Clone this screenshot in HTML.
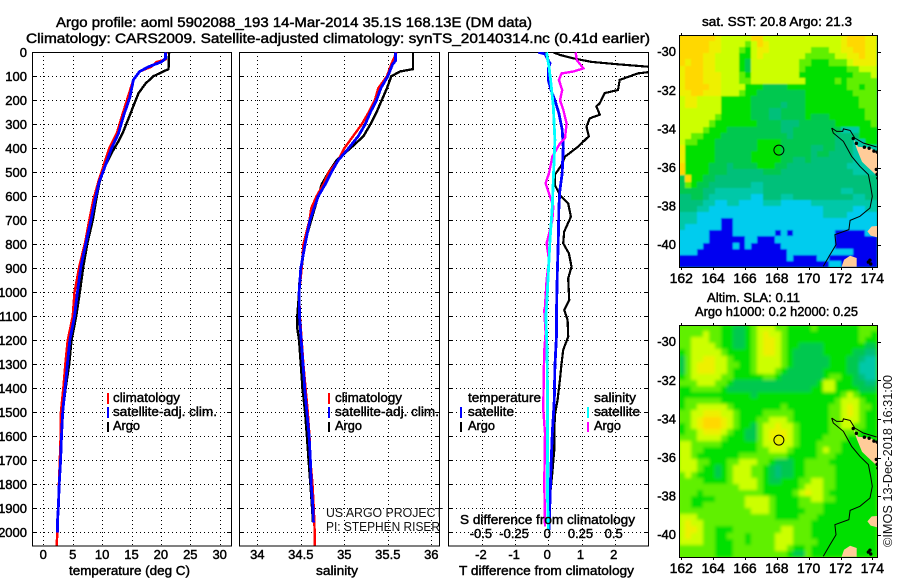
<!DOCTYPE html>
<html lang="en">
<head>
<meta charset="utf-8">
<title>Argo profile</title>
<style>
html,body{margin:0;padding:0;background:#fff;}
svg{display:block;position:absolute;left:0;top:0;}
text{font-family:"Liberation Sans",sans-serif;font-size:13px;fill:#000;stroke:#000;stroke-width:.45px;}
.thin{stroke:none;font-size:13px;fill:#111;}
.big{font-size:14px;}
</style>
</head>
<body>
<svg id="chart" xmlns="http://www.w3.org/2000/svg" width="900" height="580" viewBox="0 0 900 580">
  <defs>
    <clipPath id="clip-t"><rect x="32" y="52" width="199" height="494"/></clipPath>
    <clipPath id="clip-s"><rect x="239" y="52" width="200" height="494"/></clipPath>
    <clipPath id="clip-d"><rect x="448" y="52" width="200" height="494"/></clipPath>
    <clipPath id="clip-m1"><rect x="679" y="35" width="198" height="232"/></clipPath>
    <clipPath id="clip-m2"><rect x="679" y="325" width="198" height="232"/></clipPath>
    <filter id="blur-soft" x="-5%" y="-5%" width="110%" height="110%"><feGaussianBlur stdDeviation="0.8"/></filter>
    <filter id="blur-smooth" x="-5%" y="-5%" width="110%" height="110%"><feGaussianBlur stdDeviation="1.5"/></filter>
  </defs>
  <rect width="900" height="580" fill="#fff"/>
  <text class="big" x="56" y="27" textLength="476" lengthAdjust="spacingAndGlyphs">Argo profile: aoml 5902088_193 14-Mar-2014 35.1S 168.13E (DM data)</text>
  <text class="big" x="26" y="43" textLength="624" lengthAdjust="spacingAndGlyphs">Climatology: CARS2009. Satellite-adjusted climatology: synTS_20140314.nc (0.41d earlier)</text>
  <g id="maps"></g>
  <g id="plots"></g>

  <g>
    <rect x="107" y="393" width="2" height="11" fill="#ff0000"/>
    <rect x="107" y="407" width="2" height="11" fill="#0000ff"/>
    <rect x="107" y="422" width="2" height="10" fill="#000"/>
    <text x="113" y="402" textLength="67" lengthAdjust="spacingAndGlyphs">climatology</text>
    <text x="113" y="416" textLength="104" lengthAdjust="spacingAndGlyphs">satellite-adj. clim.</text>
    <text x="113" y="430" textLength="27" lengthAdjust="spacingAndGlyphs">Argo</text>
  </g>
  <g>
    <rect x="328" y="393" width="2" height="11" fill="#ff0000"/>
    <rect x="328" y="407" width="2" height="11" fill="#0000ff"/>
    <rect x="328" y="422" width="2" height="10" fill="#000"/>
    <text x="335" y="402" textLength="67" lengthAdjust="spacingAndGlyphs">climatology</text>
    <text x="335" y="416" textLength="104" lengthAdjust="spacingAndGlyphs">satellite-adj. clim.</text>
    <text x="335" y="430" textLength="27" lengthAdjust="spacingAndGlyphs">Argo</text>
  </g>
  <text class="thin" x="326" y="517" textLength="117" lengthAdjust="spacingAndGlyphs">US ARGO PROJECT</text>
  <text class="thin" x="326" y="531" textLength="114" lengthAdjust="spacingAndGlyphs">PI: STEPHEN RISER</text>
  <g>
    <text x="468" y="402" textLength="73" lengthAdjust="spacingAndGlyphs">temperature</text>
    <rect x="460" y="407" width="2" height="11" fill="#0000ff"/>
    <text x="468" y="416" textLength="46" lengthAdjust="spacingAndGlyphs">satellite</text>
    <rect x="460" y="422" width="2" height="10" fill="#000"/>
    <text x="468" y="430" textLength="27" lengthAdjust="spacingAndGlyphs">Argo</text>
    <text x="594" y="402" textLength="42" lengthAdjust="spacingAndGlyphs">salinity</text>
    <rect x="587" y="407" width="2" height="11" fill="#00ffff"/>
    <text x="594" y="416" textLength="46" lengthAdjust="spacingAndGlyphs">satellite</text>
    <rect x="587" y="422" width="2" height="10" fill="#ff00ff"/>
    <text x="594" y="430" textLength="27" lengthAdjust="spacingAndGlyphs">Argo</text>
  </g>
  <text x="460" y="524" textLength="175" lengthAdjust="spacingAndGlyphs">S difference from climatology</text>
  <text x="69" y="575" textLength="121" lengthAdjust="spacingAndGlyphs">temperature (deg C)</text>
  <text x="316" y="575" textLength="42" lengthAdjust="spacingAndGlyphs">salinity</text>
  <text x="459" y="575" textLength="175" lengthAdjust="spacingAndGlyphs">T difference from climatology</text>
  <text x="702" y="26" textLength="150" lengthAdjust="spacingAndGlyphs">sat. SST: 20.8 Argo: 21.3</text>
  <text x="707" y="302" textLength="93" lengthAdjust="spacingAndGlyphs">Altim. SLA: 0.11</text>
  <text x="695" y="316" textLength="163" lengthAdjust="spacingAndGlyphs">Argo h1000: 0.2 h2000: 0.25</text>
  <text class="thin" transform="translate(892,547) rotate(-90)" x="0" y="0" textLength="172" lengthAdjust="spacingAndGlyphs">©IMOS 13-Dec-2018 16:31:00</text>
</svg>
<script>
/* ---------- profile data (depth in dbar, values as read) ---------- */
const depthTicks = [0,100,200,300,400,500,600,700,800,900,1000,1100,1200,1300,1400,1500,1600,1700,1800,1900,2000];
const tempTicks = [0,5,10,15,20,25,30];
const salTicks = [34,34.5,35,35.5,36];
const salTickLabels = ['34','34.5','35','35.5','36'];
const dtTicks = [-2,-1,0,1,2];
const dsTicks = [-0.5,-0.25,0,0.25,0.5];
const dsTickLabels = ['-0.5','-0.25','0','0.25','0.5'];
const lonTicks = [162,164,166,168,170,172,174];
const latTicks = [-30,-32,-34,-36,-38,-40];

const tempArgoDepth = [0,70,80,100,130,170,225,275,330,370,420,475,540,600,700,795,893,1000,1100,1200,1300,1400,1500,1600,1700,1800,1900,1960];
const tempArgo = [21.4,21.3,20.4,18.7,17.4,16.2,15.3,14.5,13.6,12.8,11.6,10.5,9.6,9.1,8.4,7.5,6.8,6.2,5.6,4.8,4.4,3.8,3.3,3.0,2.9,2.7,2.55,2.4];
const tempClimDepth = [0,30,40,60,80,115,185,255,337,400,476,540,615,700,795,893,1000,1100,1200,1300,1400,1500,1600,1700,1800,1900,2000,2055];
const tempClim = [20.9,20.8,19.3,18.4,16.4,15.3,14.4,13.5,12.5,11.2,10.2,9.35,8.5,7.8,7.1,6.1,5.3,5.0,4.15,3.75,3.4,3.0,2.95,2.8,2.65,2.55,2.4,2.27];
const tempSatDepth = [0,25,40,60,80,115,130,190,260,340,400,476,540,615,700,795,893,1000,1100,1200,1300,1400,1500,1600,1700,1800,1900,1960,2000];
const tempSat = [20.8,20.8,20.1,17.9,16.4,15.3,15.2,14.7,13.7,12.75,11.6,10.5,9.5,8.8,8.1,7.25,6.4,5.8,5.3,4.5,4.1,3.7,3.3,3.1,2.95,2.7,2.55,2.4,2.4];

const salArgoDepth = [0,70,80,100,150,200,250,300,350,400,450,500,550,600,700,800,900,970,1000,1100,1150,1200,1300,1400,1500,1600,1700,1800,1900,1960];
const salArgo = [35.79,35.79,35.64,35.54,35.49,35.43,35.37,35.3,35.22,35.07,34.91,34.82,34.74,34.7,34.62,34.54,34.51,34.48,34.48,34.46,34.46,34.48,34.5,34.52,34.55,34.57,34.59,34.61,34.63,34.64];
const salClimDepth = [0,50,100,150,200,250,300,350,400,450,500,550,600,650,700,800,900,1000,1100,1200,1300,1400,1500,1600,1700,1800,1900,2000,2055];
const salClim = [35.6,35.54,35.49,35.39,35.35,35.28,35.2,35.1,35.0,34.93,34.82,34.76,34.68,34.62,34.6,34.53,34.51,34.48,34.49,34.51,34.53,34.555,34.58,34.6,34.61,34.635,34.65,34.66,34.66];
const salSatDepth = [0,35,50,100,150,200,250,300,350,400,450,500,550,600,700,800,900,1000,1100,1200,1300,1400,1500,1600,1700,1800,1900,1960];
const salSat = [35.59,35.59,35.555,35.5,35.42,35.37,35.3,35.24,35.16,35.05,34.93,34.85,34.78,34.7,34.605,34.55,34.5,34.48,34.485,34.505,34.525,34.545,34.57,34.595,34.61,34.62,34.64,34.645];

const dtArgoDepth = [0,11,25,40,50,60,70,83,88,115,157,170,212,226,260,275,310,350,393,435,470,510,553,595,630,685,747,796,838,893,942,1004,1032,1074,1115,1185,1240,1296,1365,1448,1510,1587,1656,1753,1850,1950];
const dtArgo = [0.15,0.35,0.75,1.3,2.1,3.0,3.6,3.0,2.7,2.15,2.1,1.7,1.55,1.45,1.55,1.25,1.15,1.22,0.9,0.5,0.4,0.2,0.2,0.35,0.6,0.68,0.48,0.45,0.62,0.7,0.6,0.62,0.63,0.48,0.58,0.6,0.45,0.4,0.35,0.28,0.2,0.18,0.18,0.12,0.05,0.03];
const dtSatDepth = [0,7,46,67,115,157,200,254,323,393,504,574,643,782,920,1060,1170,1310,1448,1587,1725,1865,1990];
const dtSat = [-0.3,-0.1,0.05,0,0,0.08,0.2,0.32,0.42,0.45,0.42,0.35,0.32,0.3,0.27,0.25,0.25,0.2,0.18,0.12,0.08,0.05,0.02];
const dsArgoDepth = [0,32,67,80,88,115,157,200,240,296,358,379,435,504,546,600,643,700,740,796,865,950,1060,1074,1170,1240,1350,1490,1587,1795,1975];
const dsArgo = [0.206,0.214,0.264,0.188,0.1,0.08,0.105,0.088,0.113,0.138,0.126,0.088,0.03,0.005,-0.02,0.013,0.038,0.03,0.013,-0.013,0.005,-0.013,-0.025,-0.03,-0.02,-0.03,-0.035,-0.038,-0.025,-0.03,-0.025];
const dsSatDepth = [0,60,130,226,365,532,643,782,920,1060,1100,1240,1448,1656,1865,1990];
const dsSat = [-0.013,0.005,0.02,0.038,0.05,0.038,0.03,0.013,0,-0.013,-0.018,-0.01,-0.005,-0.005,-0.005,0];

/* ---------- map data (colour-class levels, north to south, west to east) ---------- */
const sstLevels = [
"999999877777997777777777777899988",
"999998877776798777777777777899988",
"999998877765788777777766677889988",
"999988777755787777777666667788988",
"989988777754777777776655566678888",
"899988777754777777776555555566777",
"899988877765777777775555555556667",
"899988877766777777777555556566666",
"899998877775554444555555555566566",
"889988877765544444444555555556666",
"788777755555444444444555555555666",
"788777755555444443444555555555666",
"777777755555444334444555555555566",
"777777655555444334444544455555566",
"777776555555544443334444445555556",
"777765554444444443344444444222555",
"776655544444444444344444443333555",
"766555444444455554444444443332255",
"855555444444455554444433443332222",
"855555444444555554444434433332222",
"855555444444555554433433333332222",
"955554443444455544333333333322222",
"955554443333334443333333333332222",
"495544333333333333333333333333333",
"465443333333223333333333333333333",
"444433222222223333333333333223333",
"334432222222113332233333333332233",
"333322112211112221111122222222222",
"333221111111111111111111222221122",
"222111111111111111111111222211111",
"222111100111111111111111111111111",
"211111100111111111111111111111111",
"111110000111111101011111110000011",
"111110000001100011111111110000000",
"111100000101000001111111110000000",
"111000000000000000111111111110000",
"000000000000000000100001100000000",
"000000000000000000000000011000000"
];
const slaLevels = [
"666666655445677766555565555555666",
"666676655445678776555555555555665",
"667776655445678876555555555555655",
"667777655445678876554444555555544",
"567777765555678876544444555554433",
"467788776555677776544444455544322",
"467888776655677776544444455544222",
"467888776555677765444444555544222",
"567777766555556654444444566554322",
"666777665444444444444445775554433",
"556666654444444444444455775555444",
"555555555555455555555555555676555",
"566666655555555555555555556777655",
"566777776555555556555555566787665",
"667788877655556666655555566787655",
"667899987655566777655555566777655",
"567899987655467787765555566776655",
"566788876554467888765555566666555",
"666777765554467888765555666655555",
"776666655555567787765556666555555",
"776655555555566777655556766555555",
"776555555566666666555556665555555",
"777665556677766544455666655555555",
"777655456777665434455666665555555",
"676555456777665434455666665555555",
"666655556777765445556677665555555",
"666666666677765555556777665555555",
"666566666666665555567877655555555",
"665555666667777655556677665555555",
"665566666667777655556666555555555",
"666666666666777655555666555555555",
"777666666666666655556665555555555",
"787766666666666666666655555555555",
"788766555666666667766655555555555",
"787766556665666677766655555555555",
"777766555665666677766665555555555",
"666666555666666677655655555555555",
"666666555666666666544655555555555"
];
const coastLonA = [171.45,171.55,172.18,172.7,173.22,173.75,173.9,174.0,173.85,173.22,172.6,172.53,171.65,171.72,171.34,170.92];
const coastLatA = [-33.96,-34.21,-34.65,-35.42,-35.94,-36.37,-36.98,-37.5,-38.1,-38.53,-38.74,-39.22,-39.48,-40.0,-40.52,-41.12];
const coastLonB = [171.45,171.76,172.14,172.18,172.6,172.9,173.43,174.27];
const coastLatB = [-33.96,-34.13,-34.13,-34.0,-34.08,-34.47,-34.73,-34.94];
const landLon1 = [172.8,173.1,173.85,174.23,174.45,174.45,173.73,173.35,173.04];
const landLat1 = [-34.5,-34.93,-34.98,-35.18,-35.25,-36.55,-36.0,-35.7,-35.08];
const landLon2 = [173.69,173.96,174.45,174.45,173.9];
const landLat2 = [-39.31,-39.05,-39.02,-39.65,-39.53];
const landLon3 = [172.07,172.22,172.6,173.02,173.02];
const landLat3 = [-41.14,-40.78,-40.57,-40.69,-41.14];
const speckLon = [172.8,173.0,173.5,173.8,174.1,174.3,174.25,174.3,174.35,173.75,173.9,173.85];
const speckLat = [-34.5,-34.75,-34.95,-35.0,-35.15,-35.2,-36.1,-36.35,-36.55,-40.9,-41.0,-40.8];
const profileLon = 168.13;
const profileLat = -35.1;

/* ---------- scales ---------- */
function yP(d){return 52.3+0.24*d;}
function xT(v){return 43.3+5.88*v;}
function xS(v){return 257.3+87*(v-34);}
function xDT(v){return 548.3+33.2*v;}
function xDS(v){return 548.3+132.8*v;}
function lonX(v){return 681.3+15.92*(v-162);}
function latY(v,top){return top+16.7+19.3*(-30-v);}
function levelColor(l){
  return ['#0000f0','#00ccee','#00c8a8','#00c07a','#00c850','#00e000','#60f000','#ccff00','#eef000','#ffd800'][l];
}

const NS='http://www.w3.org/2000/svg';
function make(tag,attrs,parent,txt){
  const e=document.createElementNS(NS,tag);
  for(const k in attrs){e.setAttribute(k,attrs[k]);}
  if(txt!==undefined){e.textContent=txt;}
  parent.appendChild(e);
  return e;
}
function linePath(xs,ds,xf){
  return xs.map(function(v,i){return (i?'L':'M')+xf(v).toFixed(1)+' '+yP(ds[i]).toFixed(1);}).join(' ');
}
function polyPath(lons,lats,top,close){
  return lons.map(function(v,i){return (i?'L':'M')+lonX(v).toFixed(1)+' '+latY(lats[i],top).toFixed(1);}).join(' ')+(close?'Z':'');
}

const plots=document.getElementById('plots');
const maps=document.getElementById('maps');

function drawPanel(name,left,right,ticks,xf,clip,showDepth){
  const g=make('g',{},plots);
  
  
  const top=52,bottom=546;
  depthTicks.forEach(function(d){
    const y=Math.round(yP(d))+0.5;
    const gl=make('line',{x1:left,x2:right,y1:y,y2:y,stroke:'#000','stroke-width':1,'stroke-dasharray':'1 3','shape-rendering':'crispEdges'},g);
    
    
    const tl=make('line',{x1:left,x2:left+4,y1:y,y2:y,stroke:'#000','stroke-width':1,'shape-rendering':'crispEdges'},g);
    
    
    const tr=make('line',{x1:right-4,x2:right,y1:y,y2:y,stroke:'#000','stroke-width':1,'shape-rendering':'crispEdges'},g);
    
    
    if(showDepth){
      const lab=make('text',{x:27,y:yP(d)+4.5,'text-anchor':'end'},g,String(d));
      
      
    }
  });
  ticks.forEach(function(t){
    const x=Math.round(xf(t))+0.5;
    const gl=make('line',{x1:x,x2:x,y1:top,y2:bottom,stroke:'#000','stroke-width':1,'stroke-dasharray':'1 3','shape-rendering':'crispEdges'},g);
    
    
  });
  const fr=make('rect',{x:left+0.5,y:top+0.5,width:right-left,height:bottom-top-0.5,fill:'none',stroke:'#000','stroke-width':1,'shape-rendering':'crispEdges'},g);
  
  
  return g;
}
function drawLine(parent,name,vals,deps,xf,color,w,clip){
  const p=make('path',{d:linePath(vals,deps,xf),fill:'none',stroke:color,'stroke-width':w,'stroke-linejoin':'miter','clip-path':'url(#'+clip+')','shape-rendering':'crispEdges'},parent);
  
  
}
function xLabels(parent,ticks,labels,xf,y){
  ticks.forEach(function(t,i){
    const l=make('text',{x:xf(t),y:y,'text-anchor':'middle'},parent,labels[i]);
    
    
  });
}

/* temperature */
const gT=drawPanel('temperature',32,231,tempTicks,xT,'clip-t',true);
drawLine(gT,'temperature-argo-line',tempArgo,tempArgoDepth,xT,'#000',2.4,'clip-t');
drawLine(gT,'temperature-climatology-line',tempClim,tempClimDepth,xT,'#ff0000',2.4,'clip-t');
drawLine(gT,'temperature-satellite-line',tempSat,tempSatDepth,xT,'#0000ff',2.8,'clip-t');
xLabels(gT,tempTicks,tempTicks.map(String),xT,559);

/* salinity */
const gS=drawPanel('salinity',239,439,salTicks,xS,'clip-s',false);
drawLine(gS,'salinity-argo-line',salArgo,salArgoDepth,xS,'#000',2.4,'clip-s');
drawLine(gS,'salinity-climatology-line',salClim,salClimDepth,xS,'#ff0000',2.4,'clip-s');
drawLine(gS,'salinity-satellite-line',salSat,salSatDepth,xS,'#0000ff',2.8,'clip-s');
xLabels(gS,salTicks,salTickLabels,xS,559);

/* differences */
const gD=drawPanel('difference',448,648,dtTicks,xDT,'clip-d',false);
drawLine(gD,'t-difference-argo-line',dtArgo,dtArgoDepth,xDT,'#000',2.2,'clip-d');
drawLine(gD,'t-difference-satellite-line',dtSat,dtSatDepth,xDT,'#0000ff',2.8,'clip-d');
drawLine(gD,'s-difference-argo-line',dsArgo,dsArgoDepth,xDS,'#ff00ff',2.4,'clip-d');
drawLine(gD,'s-difference-satellite-line',dsSat,dsSatDepth,xDS,'#00ffff',2.8,'clip-d');
xLabels(gD,dtTicks,dtTicks.map(String),function(v){return xDT(v)-1;},559);
xLabels(gD,dsTicks,dsTickLabels,function(v){return xDS(v)-1;},538);

/* maps */
function drawMap(name,levels,top,clip,circleFill,blurId,baseLevel){
  const g=make('g',{},maps);
  
  
  const left=679,cols=33,cw=6,ch=232/levels.length;
  const holder=make('g',{'clip-path':'url(#'+clip+')'},g);
  
  
  const base=make('rect',{x:left,y:top,width:198,height:232,fill:levelColor(baseLevel)},holder);
  
  
  const cells=make('g',{filter:'url(#'+blurId+')'},holder);
  
  
  levels.forEach(function(row,r){
    for(let c=0;c<cols;c++){
      const lv=+(row[c]===undefined?row[row.length-1]:row[c]);
      const y0=Math.round(top+r*ch),y1=Math.round(top+(r+1)*ch);
      const cell=make('rect',{x:left+c*cw,y:y0,width:cw,height:y1-y0,fill:levelColor(lv),'shape-rendering':'crispEdges'},cells);
      
      
    }
  });
  const landA=make('path',{d:polyPath(landLon1,landLat1,top,true),fill:'#ffcc99','clip-path':'url(#'+clip+')'},g);
  
  
  const landB=make('path',{d:polyPath(landLon2,landLat2,top,true),fill:'#ffcc99','clip-path':'url(#'+clip+')'},g);
  
  
  const landC=make('path',{d:polyPath(landLon3,landLat3,top,true),fill:'#ffcc99','clip-path':'url(#'+clip+')'},g);
  
  
  speckLon.forEach(function(v,i){
    const s=make('circle',{cx:lonX(v),cy:latY(speckLat[i],top),r:1.7,fill:'#000','clip-path':'url(#'+clip+')'},g);
    
    
  });
  const ca=make('path',{d:polyPath(coastLonA,coastLatA,top,false),fill:'none',stroke:'#000','stroke-width':1,'clip-path':'url(#'+clip+')'},g);
  
  
  const cb=make('path',{d:polyPath(coastLonB,coastLatB,top,false),fill:'none',stroke:'#000','stroke-width':1,'clip-path':'url(#'+clip+')'},g);
  
  
  const mk=make('circle',{cx:lonX(profileLon),cy:latY(profileLat,top),r:5,fill:circleFill,stroke:'#000','stroke-width':1},g);
  
  
  const fr=make('rect',{x:679.5,y:top+0.5,width:198,height:232,fill:'none',stroke:'#000','stroke-width':1,'shape-rendering':'crispEdges'},g);
  
  
  lonTicks.forEach(function(v){
    const x=Math.round(lonX(v))+0.5;
    const t1=make('line',{x1:x,x2:x,y1:top-2,y2:top,stroke:'#000','shape-rendering':'crispEdges'},g);
    
    
    const t2=make('line',{x1:x,x2:x,y1:top+232,y2:top+235,stroke:'#000','shape-rendering':'crispEdges'},g);
    
    
    const l=make('text',{x:lonX(v),y:top+248,'text-anchor':'middle',class:'big'},g,String(v));
    
    
  });
  latTicks.forEach(function(v){
    const y=Math.round(latY(v,top))+0.5;
    const t=make('line',{x1:878,x2:881,y1:y,y2:y,stroke:'#000','shape-rendering':'crispEdges'},g);
    
    
    const l=make('text',{x:676,y:latY(v,top)+4.5,'text-anchor':'end'},g,String(v));
    
    
  });
}
drawMap('sst',sstLevels,35,'clip-m1','none','blur-soft',3);
drawMap('sla',slaLevels,325,'clip-m2','#e8f000','blur-smooth',6);
</script>
</body>
</html>
